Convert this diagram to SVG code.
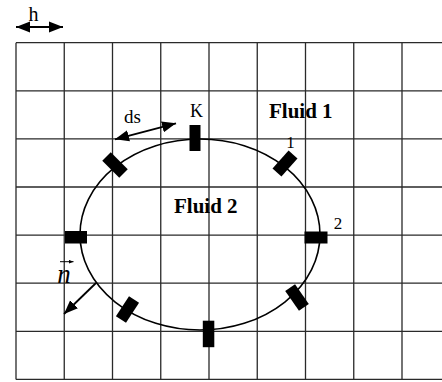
<svg xmlns="http://www.w3.org/2000/svg" width="442" height="382" viewBox="0 0 442 382">
<style>
.grid{stroke:#2a2a2a;stroke-width:1.3;fill:none}
.curve{stroke:#000;stroke-width:1.6;fill:none}
.mk{fill:#000}
.lab{font-family:"Liberation Serif","Times New Roman",serif;fill:#000}
.big{font-weight:bold;font-size:21px}
.arr{stroke:#000;stroke-width:1.8;fill:none}
</style>
<defs>
<marker id="ah" viewBox="0 0 10 8" refX="10" refY="4" markerWidth="14" markerHeight="12" markerUnits="userSpaceOnUse" orient="auto-start-reverse">
<path d="M0,0 L10,4 L0,8 z" fill="#000"/>
</marker>
<marker id="ahs" viewBox="0 0 10 8" refX="10" refY="4" markerWidth="5" markerHeight="4" markerUnits="userSpaceOnUse" orient="auto">
<path d="M0,0 L10,4 L0,8 z" fill="#000"/>
</marker>
</defs>
<g id="grid" class="grid">
<path d="M16,42.7V379.4M64.25,42.7V379.4M112.5,42.7V379.4M160.75,42.7V379.4M209,42.7V379.4M257.25,42.7V379.4M305.5,42.7V379.4M353.75,42.7V379.4M402,42.7V379.4"/>
<path d="M16,42.7H442M16,90.8H442M16,138.9H442M16,187H442M16,235.1H442M16,283.2H442M16,331.3H442M16,379.4H442"/>
</g>
<g id="interface">
<ellipse class="curve" cx="200" cy="234.5" rx="120" ry="95.5"/>
</g>
<g id="marker-K"><rect class="mk" x="189.5" y="125" width="11" height="26"/></g>
<g id="marker-1"><rect class="mk" x="-12" y="-6" width="24" height="12" transform="translate(285,163.5) rotate(-48)"/></g>
<g id="marker-2"><rect class="mk" x="304.5" y="231.5" width="23" height="12"/></g>
<g id="marker-3"><rect class="mk" x="-12" y="-6" width="24" height="12" transform="translate(297,297.5) rotate(55)"/></g>
<g id="marker-4"><rect class="mk" x="202.8" y="320.7" width="11.5" height="26.5"/></g>
<g id="marker-5"><rect class="mk" x="-12" y="-6" width="24" height="12" transform="translate(127.5,309.5) rotate(-57)"/></g>
<g id="marker-6"><rect class="mk" x="65" y="231" width="22" height="12.5"/></g>
<g id="marker-7"><rect class="mk" x="-12" y="-6" width="24" height="12" transform="translate(115,165) rotate(45)"/></g>
<g id="connectors">
<line class="arr" x1="16" y1="27" x2="63" y2="27" marker-start="url(#ah)" marker-end="url(#ah)"/>
<line class="arr" x1="115" y1="139.3" x2="176" y2="123.3" marker-start="url(#ah)" marker-end="url(#ah)"/>
<line class="arr" x1="96" y1="283" x2="64" y2="314" marker-end="url(#ah)"/>
<line x1="60" y1="261.7" x2="73.5" y2="261.7" stroke="#000" stroke-width="1" marker-end="url(#ahs)"/>
</g>
<g id="labels">
<text class="lab" x="33.5" y="21" font-size="20" text-anchor="middle">h</text>
<text class="lab" x="124" y="122.7" font-size="19">ds</text>
<text class="lab" x="196.5" y="116.7" font-size="18" text-anchor="middle">K</text>
<text class="lab big" x="269" y="118.3">Fluid 1</text>
<text class="lab big" x="174" y="212.7">Fluid 2</text>
<text class="lab" x="290.5" y="148" font-size="17" text-anchor="middle">1</text>
<text class="lab" x="338" y="229" font-size="17" text-anchor="middle">2</text>
<text class="lab" x="64" y="282.7" font-size="27" font-style="italic" text-anchor="middle">n</text>
</g>
</svg>
